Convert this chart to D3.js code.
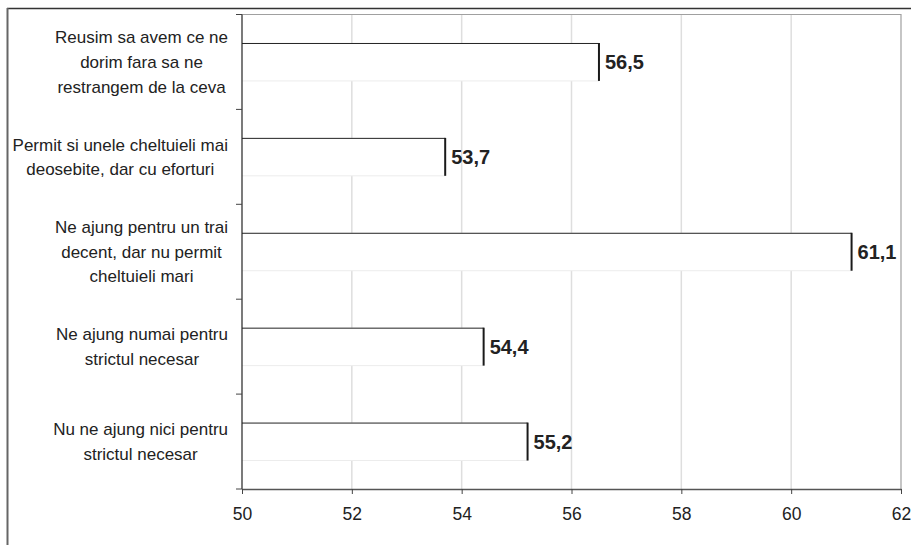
<!DOCTYPE html>
<html>
<head>
<meta charset="utf-8">
<script src="https://cdn.jsdelivr.net/npm/d3@7"></script>
<style>
  html, body { margin: 0; padding: 0; background: #fff; }
  svg { display: block; }
  text { font-family: "Liberation Sans", Arial, sans-serif; fill: #222; }
</style>
</head>
<body>
<svg id="chart" width="911" height="545"></svg>
<script>
// Category labels, one array of lines per category (top to bottom)
const categories = [
  ["Reusim sa avem ce ne", "dorim fara sa ne", "restrangem de la ceva"],
  ["Permit si unele cheltuieli mai", "deosebite, dar cu eforturi"],
  ["Ne ajung pentru un trai", "decent, dar nu permit", "cheltuieli mari"],
  ["Ne ajung numai pentru", "strictul necesar"],
  ["Nu ne ajung nici pentru", "strictul necesar"]
];
const values = [56.5, 53.7, 61.1, 54.4, 55.2];
const xTicks = [50, 52, 54, 56, 58, 60, 62];

const svg = d3.select("#chart");
const plot = { left: 242, right: 901, top: 14.5, bottom: 489 };

const x = d3.scaleLinear().domain([50, 62]).range([plot.left, plot.right]);
const y = d3.scaleBand()
  .domain(d3.range(categories.length))
  .range([plot.top, plot.bottom])
  .paddingInner(0.6)
  .paddingOuter(0.3);

const fmt = v => d3.format(".1f")(v).replace(".", ",");

// outer frame (top and left edges visible)
svg.append("line").attr("x1", 7).attr("x2", 911).attr("y1", 8.5).attr("y2", 8.5)
  .attr("stroke", "#333").attr("stroke-width", 1.5);
svg.append("line").attr("x1", 7.5).attr("x2", 7.5).attr("y1", 8).attr("y2", 545)
  .attr("stroke", "#666").attr("stroke-width", 2);

// vertical gridlines
svg.append("g").selectAll("line")
  .data(xTicks.filter(t => t > 50 && t < 62))
  .join("line")
  .attr("x1", d => x(d)).attr("x2", d => x(d))
  .attr("y1", plot.top).attr("y2", plot.bottom)
  .attr("stroke", "#dedede").attr("stroke-width", 1.5);

// plot area border: top and right
svg.append("path")
  .attr("d", `M${plot.left},${plot.top}H${plot.right}V${plot.bottom}`)
  .attr("fill", "none").attr("stroke", "#a0a0a0").attr("stroke-width", 1.2);

// bars: white fill, dark top and right edges, faint bottom edge
const bars = svg.append("g").selectAll("g").data(values).join("g");
bars.append("rect")
  .attr("x", x(50)).attr("y", (d, i) => y(i))
  .attr("width", d => x(d) - x(50)).attr("height", y.bandwidth())
  .attr("fill", "#fff");
bars.append("line")
  .attr("x1", x(50)).attr("x2", d => x(d))
  .attr("y1", (d, i) => y(i) + 0.5).attr("y2", (d, i) => y(i) + 0.5)
  .attr("stroke", "#222").attr("stroke-width", 1);
bars.append("line")
  .attr("x1", x(50)).attr("x2", d => x(d))
  .attr("y1", (d, i) => y(i) + y.bandwidth()).attr("y2", (d, i) => y(i) + y.bandwidth())
  .attr("stroke", "#ececec").attr("stroke-width", 1);
bars.append("line")
  .attr("x1", d => x(d)).attr("x2", d => x(d))
  .attr("y1", (d, i) => y(i)).attr("y2", (d, i) => y(i) + y.bandwidth())
  .attr("stroke", "#1a1a1a").attr("stroke-width", 2);

// value labels
bars.append("text")
  .attr("x", d => x(d) + 6)
  .attr("y", (d, i) => y(i) + y.bandwidth() / 2)
  .attr("dy", "0.36em")
  .style("font-size", "20px").style("font-weight", "bold")
  .text(d => fmt(d));

// x axis
const xAxis = svg.append("g")
  .attr("transform", `translate(0,${plot.bottom})`)
  .call(d3.axisBottom(x).tickValues(xTicks).tickSize(5).tickSizeOuter(0).tickPadding(14).tickFormat(d3.format("d")));
xAxis.select(".domain").attr("stroke", "#555").attr("stroke-width", 1.5);
xAxis.selectAll(".tick line").attr("stroke", "#444");
xAxis.selectAll(".tick text").style("font-size", "17.5px").attr("fill", "#222");

// y axis line with ticks at category boundaries
const bounds = d3.range(categories.length + 1).map(i => plot.top + i * (plot.bottom - plot.top) / categories.length);
svg.append("line")
  .attr("x1", plot.left).attr("x2", plot.left)
  .attr("y1", plot.top).attr("y2", plot.bottom)
  .attr("stroke", "#222").attr("stroke-width", 1.2);
svg.append("g").selectAll("line").data(bounds).join("line")
  .attr("x1", plot.left - 6).attr("x2", plot.left)
  .attr("y1", d => d).attr("y2", d => d)
  .attr("stroke", "#444").attr("stroke-width", 1);

// category labels: centered multi-line blocks, right-aligned to the axis
const lineH = 24.6;
const labels = svg.append("g").selectAll("text").data(categories).join("text")
  .style("font-size", "17px")
  .attr("text-anchor", "middle");
labels.each(function(lines, i) {
  const t = d3.select(this);
  const cy = y(i) + y.bandwidth() / 2;
  lines.forEach((ln, j) => {
    t.append("tspan")
      .attr("y", cy + (j - (lines.length - 1) / 2) * lineH)
      .attr("dy", "0.36em")
      .text(ln);
  });
  let maxW = 0;
  t.selectAll("tspan").each(function() { maxW = Math.max(maxW, this.getComputedTextLength()); });
  t.selectAll("tspan").attr("x", 228 - maxW / 2);
});
</script>
</body>
</html>
